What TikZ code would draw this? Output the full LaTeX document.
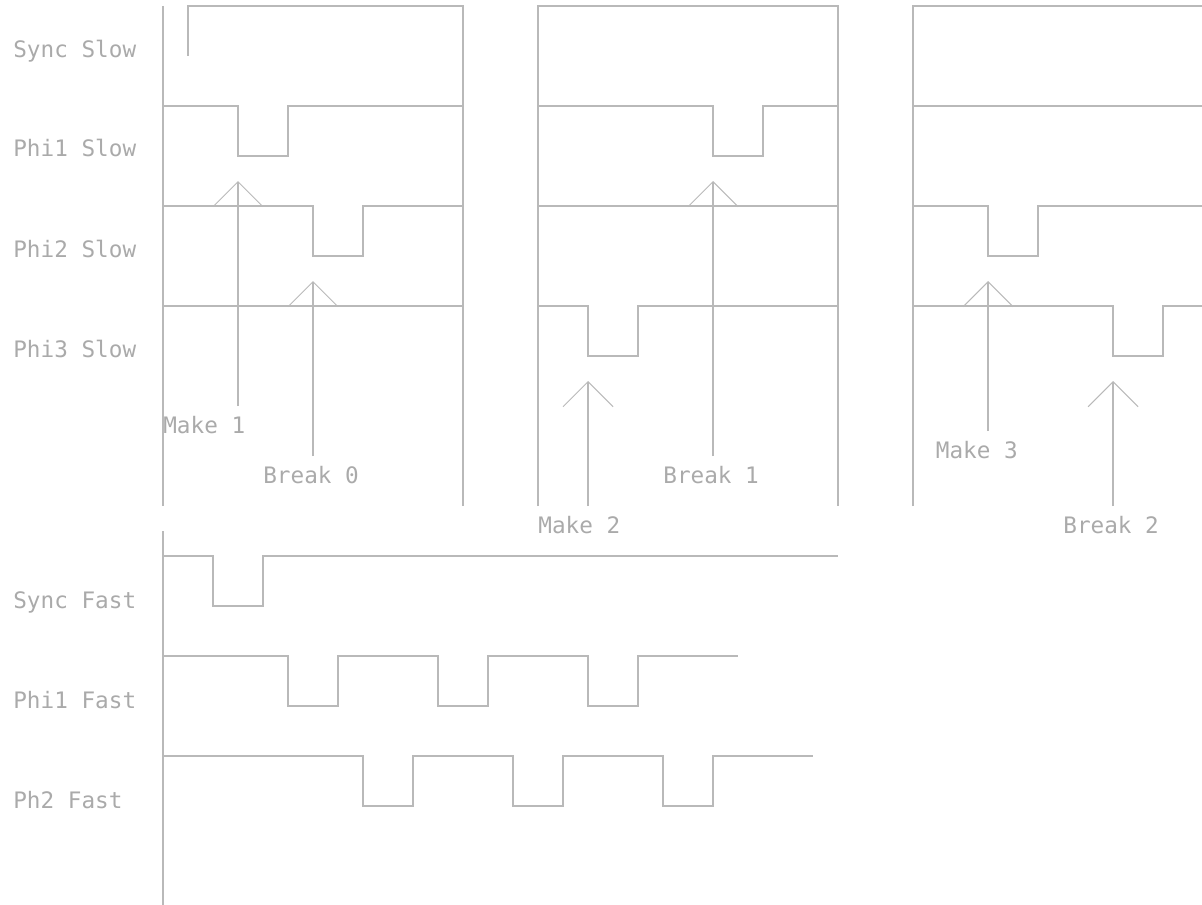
\documentclass[tikz,border=0pt]{standalone}
\usepackage{fontspec}
\newfontfamily\cadfont{DejaVu Sans Mono}
\usetikzlibrary{arrows.meta}
\definecolor{cadline}{RGB}{185,185,185}
\definecolor{cadtext}{RGB}{170,170,170}
\tikzset{
  wv/.style={cadline, line width=0.6pt},
  evarr/.style={-{Straight Barb[length=5mm, width=10mm]}, cadline, line width=0.6pt},
  sigl/.style={font=\cadfont\fontsize{12.9}{16}\selectfont, text=cadtext,
               anchor=base west, inner sep=0pt},
  evl/.style={sigl},
}
% start x, pulse x, end x, level
\newcommand{\prow}[4]{%
  \draw[wv] (#1,#4) -| (#2,{#4-1}) -| ({#2+1},#4) -- (#3,#4);}

\begin{document}
\begin{tikzpicture}
  \clip (-3.26,-17.98) rectangle (20.78,0.12);
  % signal names
  \node[sigl] (nss) at (-3,-1.04) {Sync Slow};
  \node[sigl] (np1s) at (-3,-3.02) {Phi1 Slow};
  \node[sigl] (np2s) at (-3,-5.02) {Phi2 Slow};
  \node[sigl] (np3s) at (-3,-7.03) {Phi3 Slow};
  \node[sigl] (nsf) at (-3,-12.05) {Sync Fast};
  \node[sigl] (np1f) at (-3,-14.05) {Phi1 Fast};
  \node[sigl] (np2f) at (-3,-16.05) {Ph2 Fast};

  % slow frames
  \draw[wv] (0,0) -- (0,-10);
  \draw[wv] (0.5,-1) -- (0.5,0) -- (6,0) -- (6,-10);
  \draw[wv] (7.5,-10) -- (7.5,0) -- (13.5,0) -- (13.5,-10);
  \draw[wv] (15,-10) -- (15,0) -- (21,0);

  % slow phases
  \foreach \xa/\xp/\xb/\yy in {0/1.5/6/-2, 0/3/6/-4, 7.5/11/13.5/-2,
                               7.5/8.5/13.5/-6, 15/16.5/21/-4, 15/19/21/-6}
    {\prow{\xa}{\xp}{\xb}{\yy}}
  \foreach \xa/\xb/\yy in {0/6/-6, 7.5/13.5/-4, 15/21/-2}
    \draw[wv] (\xa,\yy) -- (\xb,\yy);

  % make / break events
  \foreach \x/\yb/\yt/\nm in {1.5/-8/-3.5/mk1, 3/-9/-5.5/bk0, 8.5/-10/-7.5/mk2,
                              11/-9/-3.5/bk1, 16.5/-8.5/-5.5/mk3, 19/-10/-7.5/bk2} {
    \coordinate (\nm s) at (\x,\yb);
    \coordinate (\nm t) at (\x,\yt);
    \draw[evarr] (\nm s) -- (\nm t);
  }
  \node[evl] (lmk1) at (0,-8.55) {Make 1};
  \node[evl] (lbk0) at (2,-9.55) {Break 0};
  \node[evl] (lmk2) at (7.5,-10.55) {Make 2};
  \node[evl] (lbk1) at (10,-9.55) {Break 1};
  \node[evl] (lmk3) at (15.45,-9.05) {Make 3};
  \node[evl] (lbk2) at (18,-10.55) {Break 2};

  % fast clocks
  \draw[wv] (0,-10.5) -- (0,-18);
  \prow{0}{1}{13.5}{-11}
  \draw[wv] (0,-13) \foreach \x in {2.5,5.5,8.5} { -| (\x,-14) -| ({\x+1},-13) }
    -- (11.5,-13);
  \draw[wv] (0,-15) \foreach \x in {4,7,10} { -| (\x,-16) -| ({\x+1},-15) }
    -- (13,-15);
\end{tikzpicture}
\end{document}
